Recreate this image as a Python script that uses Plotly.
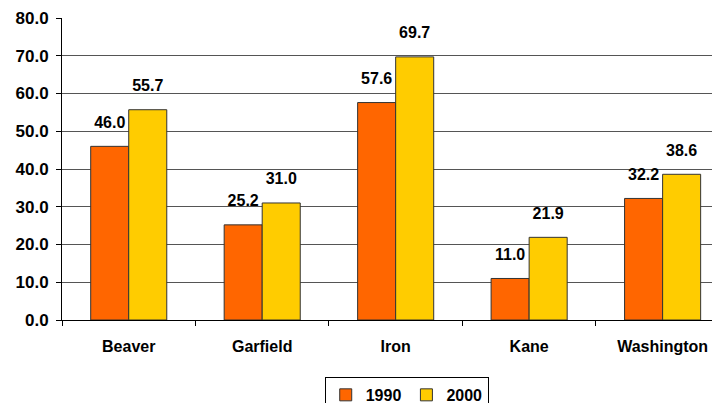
import plotly.graph_objects as go

counties = ["Beaver", "Garfield", "Iron", "Kane", "Washington"]
values_1990 = [46.0, 25.2, 57.6, 11.0, 32.2]
values_2000 = [55.7, 31.0, 69.7, 21.9, 38.6]

FONT = "Liberation Sans, Arial, sans-serif"


def bold(size):
    return dict(family=FONT, size=size, color="black", weight="bold")


fig = go.Figure()
for name, vals, color in [
    ("1990", values_1990, "#FF6600"),
    ("2000", values_2000, "#FFCC00"),
]:
    fig.add_trace(
        go.Bar(
            x=counties,
            y=vals,
            name=name,
            offsetgroup=name,
            marker=dict(color=color, line=dict(color="#333333", width=1)),
        )
    )
    # value labels, lifted above the bars by an invisible marker
    fig.add_trace(
        go.Scatter(
            x=counties,
            y=vals,
            offsetgroup=name,
            mode="markers+text",
            marker=dict(size=22, opacity=0),
            text=[f"{v:.1f}" for v in vals],
            textposition="top center",
            textfont=bold(16),
            showlegend=False,
            hoverinfo="skip",
            cliponaxis=False,
        )
    )

# the page body adds an 8px offset, so the figure is sized to what stays visible
fig.update_layout(
    width=712,
    height=395,
    margin=dict(l=54, r=0, t=10, b=83),
    paper_bgcolor="white",
    plot_bgcolor="white",
    barmode="group",
    scattermode="group",
    bargap=0.43,
    bargroupgap=0,
    font=bold(16),
    showlegend=True,
    legend=dict(
        orientation="h",
        xref="container",
        yref="container",
        x=0.56,
        y=0.066,
        xanchor="center",
        yanchor="top",
        bordercolor="black",
        borderwidth=1,
        font=bold(16),
        itemwidth=30,
        traceorder="normal",
    ),
)
fig.update_xaxes(
    range=[-0.5, 4.43],
    showline=True,
    linecolor="black",
    ticks="outside",
    tickson="boundaries",
    ticklen=5,
    tickcolor="black",
    ticklabelstandoff=12,
    tickfont=bold(16),
    automargin=False,
)
fig.update_yaxes(
    range=[0, 80],
    dtick=10,
    tickformat=".1f",
    showline=True,
    linecolor="black",
    ticks="outside",
    ticklen=5,
    tickcolor="black",
    ticklabelstandoff=4,
    showgrid=True,
    gridcolor="#555555",
    gridwidth=1,
    zeroline=False,
    tickfont=bold(17),
    automargin=False,
)

fig.write_html("out.html")
